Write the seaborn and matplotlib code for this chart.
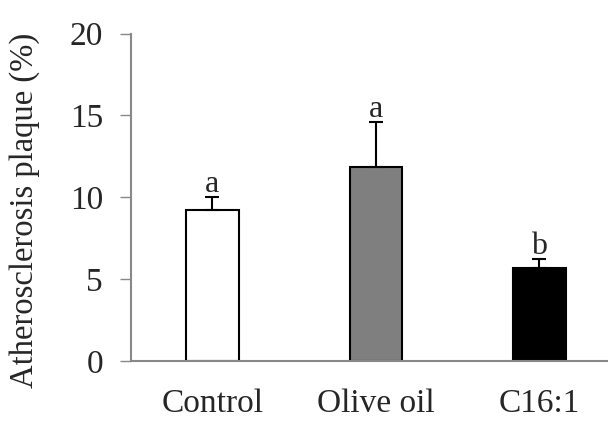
import seaborn as sns
import matplotlib.pyplot as plt
import pandas as pd

# data
groups = ["Control", "Olive oil", "C16:1"]
plaque = [9.2, 11.85, 5.65]
sem = [0.8, 2.75, 0.55]
letters = ["a", "a", "b"]
bar_colors = ["white", "#7f7f7f", "black"]

sns.set_theme(style="ticks")
plt.rcParams["font.family"] = ["Liberation Serif", "DejaVu Serif"]

df = pd.DataFrame({"group": groups, "plaque": plaque})

fig, ax = plt.subplots(figsize=(6.08, 4.21), dpi=100)
sns.barplot(data=df, x="group", y="plaque", hue="group", palette=bar_colors,
            width=0.32, edgecolor="black", linewidth=1.5, legend=False, ax=ax)

# upper-only error bars
xs = list(range(len(groups)))
ax.errorbar(xs, plaque, yerr=[[0] * len(sem), sem], fmt="none",
            ecolor="black", elinewidth=1.5, capsize=5, capthick=1.5)

for x, m, e, t in zip(xs, plaque, sem, letters):
    ax.text(x, m + e - 0.1, t, ha="center", va="bottom", fontsize=23)

ax.set_ylim(0, 20)
ax.set_yticks([0, 5, 10, 15, 20])
ax.set_xlim(-0.5, 2.42)
ax.set_xlabel("")
ax.set_ylabel("Atherosclerosis plaque (%)", fontsize=23.5)
ax.yaxis.set_label_coords(-0.19, 0.46)
ax.tick_params(axis="y", labelsize=24, length=8, width=1, color="#888888", pad=12)
ax.tick_params(axis="x", labelsize=24, length=0, pad=20)
for s in ["top", "right"]:
    ax.spines[s].set_visible(False)
for s in ["left", "bottom"]:
    ax.spines[s].set_color("#888888")
    ax.spines[s].set_linewidth(1.5)

plt.subplots_adjust(left=0.215, right=1.0, top=0.92, bottom=0.143)
plt.savefig("out.png", dpi=100)
